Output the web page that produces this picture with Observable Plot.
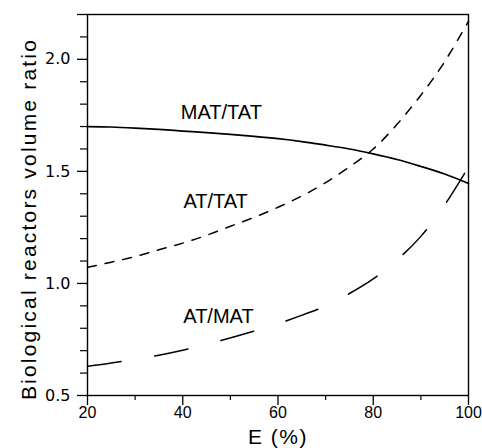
<!DOCTYPE html>
<html><head><meta charset="utf-8">
<script src="https://cdn.jsdelivr.net/npm/d3@7"></script>
<script src="https://cdn.jsdelivr.net/npm/@observablehq/plot@0.6"></script>
<style>
body{margin:0;background:#fff} svg{display:block}
.ytitle text{letter-spacing:2.2px}
.xtitle text{letter-spacing:1.5px}
</style>
</head><body><div id="chart"></div>
<script>
const E = [20,25,30,35,40,45,50,55,60,65,70,75,80,85,90,95,100];
const matTat = [1.700,1.698,1.693,1.687,1.680,1.673,1.665,1.656,1.646,1.633,1.617,1.600,1.578,1.553,1.522,1.488,1.446];
const atTat  = [1.072,1.095,1.120,1.150,1.180,1.215,1.255,1.295,1.340,1.390,1.450,1.520,1.600,1.710,1.840,1.990,2.170];
const atMat  = [0.630,0.645,0.662,0.680,0.702,0.728,0.757,0.787,0.820,0.858,0.900,0.955,1.020,1.105,1.210,1.350,1.520];
const seriesNames = ["MAT/TAT","AT/TAT","AT/MAT"];
const labelE = [48.1, 46.9, 47.5];
const labelV = [1.764, 1.364, 0.852];
const yMajor = [0.5,1.0,1.5,2.0,2.2];
const yTickLabels = ["0.5","1.0","1.5","2.0",""];
const yMinor = [0.6,0.7,0.8,0.9,1.1,1.2,1.3,1.4,1.6,1.7,1.8,1.9,2.1];
const xMajor = [20,40,60,80,100];
const xTickLabels = ["20","40","60","80","100"];
const xMinor = [30,50,70,90];
const xTitle = "E (%)";
const yTitle = "Biological reactors volume ratio";

const values = [matTat, atTat, atMat];
const dashes = [null, "9,9", "34,34"];
const rowsFor = i => E.map((e,j)=>({E:e, v:values[i][j]}));
const labels = seriesNames.map((s,i)=>({s, E:labelE[i], v:labelV[i]}));
const font = "Liberation Sans, Arial, sans-serif";
const tickFont = "DejaVu Sans, sans-serif";

const chart = Plot.plot({
  width: 482, height: 448,
  marginLeft: 87, marginRight: 14, marginTop: 14, marginBottom: 53,
  style: {fontFamily: font, color: "#000", background: "#fff"},
  x: {domain: [20,100]},
  y: {domain: [0.5,2.2]},
  marks: [
    Plot.frame({stroke: "#000", strokeWidth: 1.4}),
    Plot.axisX({ticks: xMajor, tickSize: 10, tickPadding: 1, tickFormat: d => xTickLabels[xMajor.indexOf(d)], fontSize: 16, label: null, strokeWidth: 1.3}),
    Plot.axisX({ticks: xMinor, tickSize: 5, tickFormat: () => "", label: null, strokeWidth: 1.2}),
    Plot.axisY({ticks: yMajor, tickSize: 10, tickPadding: 7, tickFormat: d => yTickLabels[yMajor.indexOf(d)], fontSize: 16, fontFamily: tickFont, label: null, strokeWidth: 1.3}),
    Plot.axisY({ticks: yMinor, tickSize: 7, tickFormat: () => "", label: null, strokeWidth: 1.2}),
    ...seriesNames.map((s,i) => Plot.line(rowsFor(i), {x: "E", y: "v", curve: "natural", stroke: "#000", strokeWidth: i === 0 ? 1.7 : 1.5, strokeDasharray: dashes[i]})),
    Plot.text(labels, {x: "E", y: "v", text: "s", fontSize: 20, textAnchor: "middle", lineAnchor: "middle"}),
    Plot.text([xTitle], {frameAnchor: "bottom", dy: 42, fontSize: 21, lineAnchor: "middle", className: "xtitle"}),
    Plot.text([yTitle], {frameAnchor: "left", dx: -58, dy: 14, rotate: -90, fontSize: 21, lineAnchor: "middle", textAnchor: "middle", className: "ytitle"})
  ]
});
document.getElementById("chart").appendChild(chart);
</script></body></html>
